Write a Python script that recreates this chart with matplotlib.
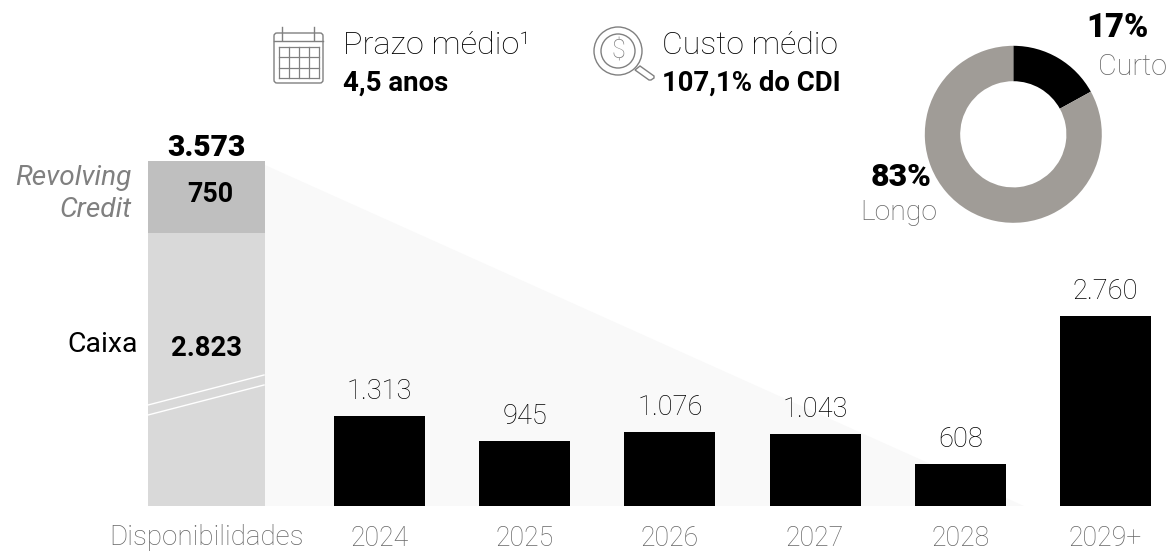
import matplotlib
matplotlib.use("Agg")
import matplotlib.pyplot as plt
from matplotlib.patches import Circle, FancyBboxPatch, Polygon

plt.rcParams["font.family"] = ["Roboto", "DejaVu Sans"]

W, H = 1168, 552

years = ["2024", "2025", "2026", "2027", "2028", "2029+"]
amortization = [1313, 945, 1076, 1043, 608, 2760]
amortization_labels = ["1.313", "945", "1.076", "1.043", "608", "2.760"]
cash = 2823
revolving = 750
cash_label = "2.823"
revolving_label = "750"
total_label = "3.573"
term_shares = [17, 83]

BASE_Y = 506
ICON_GREY = "#808080"
TEXT_GREY = "#666666"
DARK = "#000000"


def full_axes(fig, ylim):
    ax = fig.add_axes([0, 0, 1, 1])
    ax.set_xlim(0, W)
    ax.set_ylim(*ylim)
    ax.axis("off")
    ax.patch.set_alpha(0)
    return ax


def draw_calendar(ax):
    ax.add_patch(FancyBboxPatch((274, 33), 49, 50, boxstyle="round,pad=0,rounding_size=3",
                                fc="none", ec=ICON_GREY, lw=1.0))
    ax.plot([274, 323], [41, 41], color=ICON_GREY, lw=1.0)
    for x in [282, 314]:
        ax.plot([x, x], [27, 40], color=ICON_GREY, lw=1.0)
    for i in range(5):
        x = 278.5 + i * 10.1
        ax.plot([x, x], [47, 78], color=ICON_GREY, lw=0.9)
    for i in range(4):
        y = 47 + i * 10.3
        ax.plot([278.5, 319], [y, y], color=ICON_GREY, lw=0.9)


def draw_magnifier(ax):
    cx, cy = 618, 51
    ax.add_patch(Circle((cx, cy), 24, fc="none", ec=ICON_GREY, lw=1.0))
    ax.add_patch(Circle((cx, cy), 17, fc="none", ec=ICON_GREY, lw=1.0))
    ax.text(cx, cy + 0.5, "$", fontsize=18, fontweight="light", color=ICON_GREY,
            ha="center", va="center")
    ax.add_patch(Polygon([[635, 70], [640, 66], [654, 76], [654, 78], [651, 80], [649, 80]],
                         closed=True, fc="white", ec=ICON_GREY, lw=1.0))


fig = plt.figure(figsize=(W / 100, H / 100), dpi=100, facecolor="white")

# px is the overlay for the faded background wedge
px = full_axes(fig, (H, 0))
px.set_zorder(1)
px.add_patch(Polygon([[265, 165], [1024, BASE_Y], [265, BASE_Y]], closed=True,
                     fc="#f9f9f9", ec="none"))

# stacked bar has its own scale, the chart itself is not to the same scale
stack_scale = (BASE_Y - 161) / (cash + revolving)
stack = full_axes(fig, (-(H - BASE_Y) / stack_scale, BASE_Y / stack_scale))
stack.set_zorder(2)
stack.bar(206.5, cash, width=117, color="#d9d9d9")
stack.bar(206.5, revolving, width=117, bottom=cash, color="#bfbfbf")

bar_scale = 190 / amortization[-1]
bars = full_axes(fig, (-(H - BASE_Y) / bar_scale, BASE_Y / bar_scale))
bars.set_zorder(3)
centers = [379.5 + i * 145.2 for i in range(len(years))]
bars.bar(centers, amortization, width=91, color="black")
for x, v, label in zip(centers, amortization, amortization_labels):
    bars.annotate(label, (x, v), xytext=(0, 11), textcoords="offset pixels", ha="center",
                  va="bottom", fontsize=19.6, fontweight="light", color=DARK)

over = full_axes(fig, (H, 0))
over.set_zorder(4)
for y0 in [405, 415]:
    over.plot([148, 264], [y0, y0 - 30], color="white", lw=1.0)

over.text(206.5, 147.5, total_label, fontsize=21.5, fontweight="black", ha="center", va="center")
over.text(210, 194, revolving_label, fontsize=19.3, fontweight="bold", ha="center", va="center")
over.text(206.5, 349, cash_label, fontsize=19.8, fontweight="bold", ha="center", va="center")
over.text(132, 178, "Revolving", fontsize=20.2, style="italic", color="#808080",
          ha="right", va="center")
over.text(132, 210, "Credit", fontsize=20.2, style="italic", color="#808080",
          ha="right", va="center")
over.text(138, 345, "Caixa", fontsize=20.5, color=DARK, ha="right", va="center")

# baseline anchors, the labels sit right at the bottom edge
over.text(206, 545, "Disponibilidades", fontsize=20, fontweight="light", color=TEXT_GREY,
          ha="center", va="baseline")
for x, year in zip(centers, years):
    over.text(x, 546, year, fontsize=19.2, fontweight="light", color=TEXT_GREY,
              ha="center", va="baseline")

draw_calendar(over)
draw_magnifier(over)
over.text(343, 46, "Prazo médio¹", fontsize=23.4, fontweight="light", color=DARK, va="center")
over.text(343, 83, "4,5 anos", fontsize=19.9, fontweight="bold", va="center")
over.text(662, 46, "Custo médio", fontsize=23, fontweight="light", color=DARK, va="center")
over.text(662, 83, "107,1% do CDI", fontsize=19.8, fontweight="bold", va="center")

# donut
dx, dy, r = 1013.3, 134.3, 88.5
donut = fig.add_axes([(dx - r) / W, 1 - (dy + r) / H, 2 * r / W, 2 * r / H])
donut.set_zorder(5)
donut.pie(term_shares, colors=["black", "#a09c97"], startangle=90, counterclock=False,
          radius=1, wedgeprops={"width": 0.4})
donut.set_xlim(-1, 1)
donut.set_ylim(-1, 1)

labels = full_axes(fig, (H, 0))
labels.set_zorder(6)
labels.text(1117, 28, "17%", fontsize=23.5, fontweight="black", ha="center", va="center")
labels.text(1132, 67, "Curto", fontsize=20.8, fontweight="light", color=TEXT_GREY, ha="center", va="center")
labels.text(901, 177, "83%", fontsize=23, fontweight="black", ha="center", va="center")
labels.text(899, 212, "Longo", fontsize=20.4, fontweight="light", color=TEXT_GREY, ha="center", va="center")

fig.savefig("out.png", dpi=100)
